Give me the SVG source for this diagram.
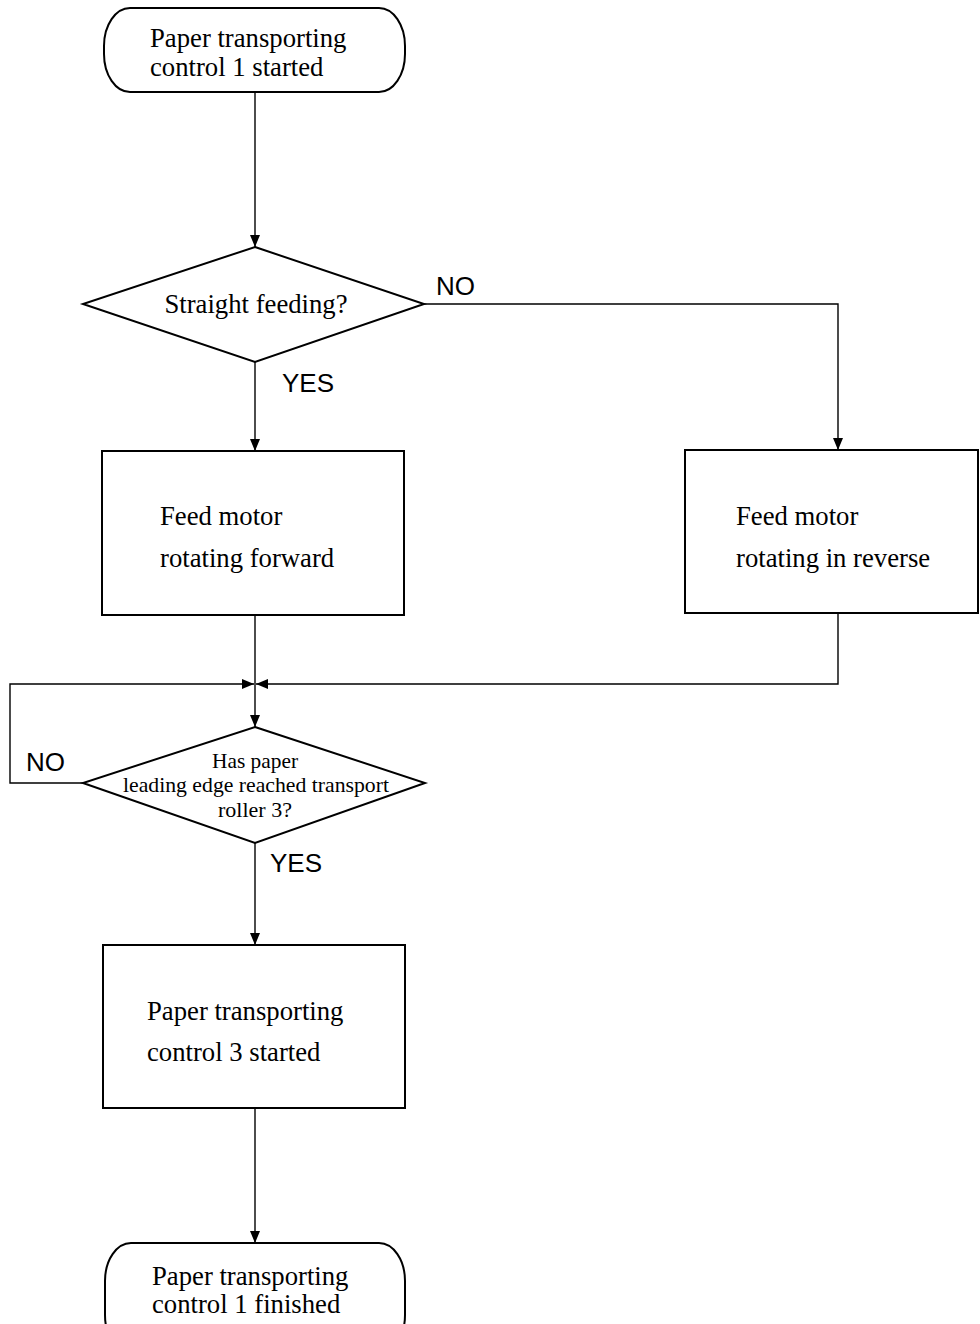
<svg xmlns="http://www.w3.org/2000/svg" width="980" height="1324" viewBox="0 0 980 1324">
<style>
.shape{fill:#fff;stroke:#000;stroke-width:2}
.line{fill:none;stroke:#000;stroke-width:1.4}
.t{font-family:"Liberation Serif","Times New Roman",serif;font-size:26.7px;fill:#000}
.ts{font-family:"Liberation Serif","Times New Roman",serif;font-size:22px;fill:#000}
.lab{font-family:"Liberation Sans",Arial,sans-serif;font-size:26px;fill:#000}
</style>
<defs>
<marker id="arr" viewBox="0 0 12 10" refX="12" refY="5" markerWidth="12" markerHeight="10" markerUnits="userSpaceOnUse" orient="auto">
<path d="M0,0 L12,5 L0,10 Z" fill="#000"/>
</marker>
</defs>
<g id="connectors">
<line class="line" x1="255" y1="92" x2="255" y2="247" marker-end="url(#arr)"/>
<polyline class="line" points="423,304 838,304 838,450" marker-end="url(#arr)"/>
<line class="line" x1="255" y1="362" x2="255" y2="451" marker-end="url(#arr)"/>
<line class="line" x1="255" y1="615" x2="255" y2="727" marker-end="url(#arr)"/>
<polyline class="line" points="838,613 838,684 256,684" marker-end="url(#arr)"/>
<polyline class="line" points="83,783 10,783 10,684 254,684" marker-end="url(#arr)"/>
<line class="line" x1="255" y1="843" x2="255" y2="945" marker-end="url(#arr)"/>
<line class="line" x1="255" y1="1108" x2="255" y2="1243" marker-end="url(#arr)"/>
<text class="lab" x="436" y="295">NO</text>
<text class="lab" x="282" y="392">YES</text>
<text class="lab" x="26" y="771">NO</text>
<text class="lab" x="270" y="872">YES</text>
</g>
<g id="start">
<rect class="shape" x="104" y="8" width="301" height="84" rx="26" ry="38"/>
<text class="t" x="150" y="47">Paper transporting</text>
<text class="t" x="150" y="76">control 1 started</text>
</g>
<g id="decision1">
<polygon class="shape" points="255,247 424,304 255,362 83,304"/>
<text class="t" x="256" y="313" text-anchor="middle">Straight feeding?</text>
</g>
<g id="forward">
<rect class="shape" x="102" y="451" width="302" height="164"/>
<text class="t" x="160" y="525">Feed motor</text>
<text class="t" x="160" y="567">rotating forward</text>
</g>
<g id="reverse">
<rect class="shape" x="685" y="450" width="293" height="163"/>
<text class="t" x="736" y="525">Feed motor</text>
<text class="t" x="736" y="567">rotating in reverse</text>
</g>
<g id="decision2">
<polygon class="shape" points="255,727 425,783 255,843 83,783"/>
<text class="ts" x="255" y="768" text-anchor="middle" textLength="86" lengthAdjust="spacingAndGlyphs">Has paper</text>
<text class="ts" x="256" y="792" text-anchor="middle" textLength="266" lengthAdjust="spacingAndGlyphs">leading edge reached transport</text>
<text class="ts" x="255" y="817" text-anchor="middle" textLength="74" lengthAdjust="spacingAndGlyphs">roller 3?</text>
</g>
<g id="control3">
<rect class="shape" x="103" y="945" width="302" height="163"/>
<text class="t" x="147" y="1020">Paper transporting</text>
<text class="t" x="147" y="1061">control 3 started</text>
</g>
<g id="end">
<rect class="shape" x="105" y="1243" width="300" height="110" rx="26" ry="38"/>
<text class="t" x="152" y="1285">Paper transporting</text>
<text class="t" x="152" y="1313">control 1 finished</text>
</g>
</svg>
